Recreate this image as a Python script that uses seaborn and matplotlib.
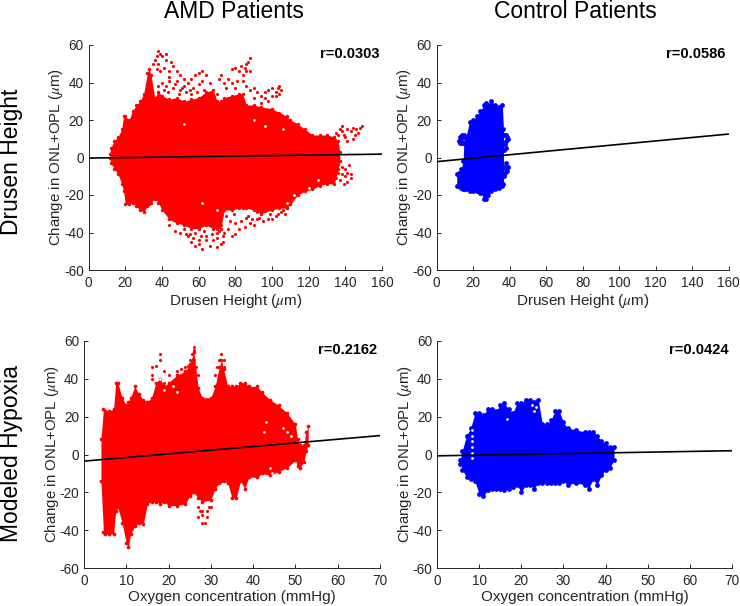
import matplotlib
matplotlib.use("Agg")
import matplotlib.pyplot as plt
import seaborn as sns
import pandas as pd

RED = "#ff0000"
BLUE = "#0000ff"
INK = "#262626"

# Panel outlines: x, upper edge, lower edge
amd_h_x = [11.5, 12, 14, 16, 18, 19, 20, 22, 24, 26, 28, 30, 32, 33, 34, 36, 38, 40, 44, 48, 52, 56, 60, 64, 68, 70, 72, 74, 78, 82, 84, 86, 90, 94, 100, 104, 108, 110, 114, 118, 122, 126, 130, 134, 136, 137]
amd_h_top = [2, 5, 9, 11, 15, 22, 22, 20, 25, 28, 30, 34, 45, 47, 44, 32, 35, 33, 31, 32, 30, 31, 32, 35, 36, 30, 30, 32, 33, 34, 34, 28, 28, 27, 26, 24, 22, 20, 18, 15, 12, 12, 12, 11, 9, 3]
amd_h_low = [0, -3, -6, -9, -14, -18, -25, -25, -24, -26, -28, -29, -26, -25, -24, -22, -24, -28, -33, -35, -36, -38, -38, -36, -38, -38, -38, -28, -28, -27, -27, -27, -28, -30, -28, -27, -27, -25, -20, -18, -17, -15, -14, -14, -6, -2]

amd_o_x = [4, 4.6, 5, 6, 7, 7.5, 8, 9, 10, 10.5, 11, 12, 13, 14, 15, 16, 17, 18, 19, 20, 22, 24, 25, 26, 27, 28, 30, 31, 32, 32.5, 33, 34, 35, 36, 37, 38, 39, 41, 42, 44, 46, 48, 50, 50.5, 51, 52, 52.5, 53]
amd_o_top = [8, 24, 23, 23, 24, 38, 38, 30, 26, 28, 30, 36, 32, 29, 28, 30, 38, 40, 36, 38, 42, 44, 48, 54, 35, 30, 30, 36, 46, 50, 45, 36, 36, 36, 38, 38, 36, 36, 33, 29, 26, 22, 16, 8, 5, 5, 12, 15]
amd_o_low = [-14, -41, -42, -42, -42, -30, -28, -36, -47, -49, -42, -38, -36, -37, -26, -25, -25, -26, -25, -27, -27, -26, -22, -20, -23, -25, -24, -18, -15, -14, -14, -15, -23, -23, -14, -18, -12, -12, -10, -11, -9, -7, -3, -6, -7, -4, 2, 5]

ctl_h_x = [11, 12, 13.5, 14.5, 15, 16, 18, 20, 22, 24, 26, 27, 28, 30, 32, 34, 36, 36.6]
ctl_h_top = [-9, -8, -6, -2, 12, 11, 19, 20, 22, 25, 28, 29, 28, 30, 28, 27, 28, 15]
ctl_h_low = [-15, -15, -16, -17, -17, -17, -18, -18, -18, -19, -22, -22, -20, -18, -17, -16, -15, -14]

ctl_o_x = [5.5, 6, 7, 8, 9, 10, 11, 12, 13, 14, 15, 16, 17, 18, 19, 20, 21, 22, 23, 24, 25, 26, 27, 28, 29, 30, 31, 33, 35, 36, 37, 38, 39, 40, 41, 42]
ctl_o_top = [-3, 2, 10, 14, 22, 22, 21, 24, 24, 23, 26, 27, 24, 22, 27, 27, 29, 29, 28, 29, 16, 16, 18, 23, 23, 17, 14, 13, 12, 12, 12, 10, 7, 6, 4, 4]
ctl_o_low = [-5, -8, -12, -13, -14, -21, -22, -19, -18, -18, -18, -19, -18, -17, -16, -20, -16, -16, -18, -15, -15, -15, -15, -15, -15, -14, -16, -15, -16, -18, -13, -16, -11, -8, -7, -3]

# Loose points outside the solid mass
amd_h_px = [38, 39, 37, 40, 42, 42, 36, 35, 38, 41, 45, 46, 48, 44, 50, 39, 37, 48, 52, 54, 56, 58, 60, 62, 64, 62, 60, 66, 57, 52, 44, 42, 38, 46, 50, 70,
            88, 87, 86, 85, 83, 80, 78, 82, 84, 86, 88, 76, 72, 71, 74, 78, 81, 84, 86, 88, 90, 80, 75,
            104, 103, 100, 98, 96, 102, 105, 100, 96, 92, 94, 102, 98, 94, 90, 104,
            149, 148, 146, 144, 147, 143, 141, 139, 138, 140, 145, 137, 141, 144, 136, 138, 135,
            136, 138, 140, 142, 143, 143, 141, 139, 137, 135, 138, 141, 136, 140,
            62, 58, 56, 54, 60, 66, 70, 72, 73, 74, 70, 64, 78, 80, 82, 85, 88, 90, 92, 95, 98, 100, 103, 106, 108, 76, 80, 86, 92, 97, 72, 50, 47, 44,
            52, 55, 58, 61, 64, 67, 70, 73, 57, 63, 68, 71, 53, 60,
            75, 77, 79, 83, 87, 89, 93, 94, 99, 102, 105, 107,
            41, 43, 47, 49, 53, 55, 59, 63, 40, 44, 51, 56]
amd_h_py = [57, 55, 54, 54, 55, 52, 52, 50, 50, 48, 51, 49, 46, 46, 44, 46, 47, 41, 42, 40, 42, 44, 45, 46, 44, 41, 39, 40, 37, 38, 41, 38, 38, 37, 36, 34,
            53, 51, 50, 48, 49, 48, 47, 46, 44, 46, 46, 42, 44, 42, 40, 40, 41, 41, 38, 36, 37, 37, 37,
            38, 37, 37, 36, 35, 35, 36, 33, 32, 35, 33, 33, 30, 29, 32, 34,
            17, 16, 15, 16, 13, 14, 15, 12, 17, 11, 12, 15, 9, 10, 12, 14, 13,
            -4, -5, -6, -4, -9, -11, -13, -14, -12, -11, -9, -8, -8, -10,
            -49, -47, -45, -42, -44, -47, -48, -46, -45, -40, -43, -42, -42, -41, -38, -37, -35, -36, -33, -34, -33, -33, -30, -28, -27, -38, -35, -32, -29, -28, -36, -40, -39, -36,
            -38, -41, -40, -42, -44, -41, -40, -42, -43, -39, -44, -39, -41, -46,
            -31, -34, -30, -34, -31, -33, -32, -29, -30, -31, -29, -30,
            36, 35, 39, 34, 35, 36, 35, 36, 40, 43, 37, 34]

amd_o_px = [18, 18, 17, 16, 16, 16, 19, 20, 19, 17, 21, 22, 23, 24, 25,
            26, 26, 25.5, 25, 24.5, 26, 26.5, 27, 26, 25,
            32.5, 32, 33, 31.5, 33, 31, 32,
            27, 27, 28, 28.5, 28, 29, 29, 30, 28, 27.5, 29.5]
amd_o_py = [53, 50, 47, 46, 42, 40, 44, 42, 38, 38, 39, 44, 45, 46, 44,
            57, 55, 53, 50, 47, 50, 46, 42, 42, 40,
            53, 50, 50, 46, 46, 42, 42,
            -28, -33, -36, -36, -32, -30, -33, -28, -30, -30, -28]

ctl_h_px = [13, 13.5, 14, 14.5, 13, 12.5, 14, 13.5, 14.5, 37, 38, 38.5, 39, 38, 37.5, 38, 37, 38, 39, 38.5, 37.5, 37, 38, 37]
ctl_h_py = [11, 9, 12, 11, 8, 9, 8, 11, 8, 12, 12, 11, 10, 9, 7, 5, 4, -3, -5, -7, -8, -5, -6, -10]

# Small white gaps inside the masses
amd_o_gap_x = [42.5, 43, 44, 44.5, 47, 48, 49, 18, 19, 21, 22]
amd_o_gap_y = [12, 17, -7, -10, 14, 12, 10, 40, 34, 36, 33]
ctl_o_gap_x = [8.2, 8.3, 8.4, 8.3, 8.2, 8.4, 22.5, 23, 23.5, 16.5]
ctl_o_gap_y = [13, 10, 7, 4, 1, -2, 26, 23, 25, 19]
amd_h_gap_x = [90, 96, 106, 120, 125, 62, 52, 70, 108, 112]
amd_h_gap_y = [20, 17, 15, -16, -12, -24, 18, -28, -24, -20]

# Fit lines
fit_h_x = [0, 160]
fit_amd_h = [-0.3, 1.8]
fit_ctl_h = [-2.2, 12.5]
fit_o_x = [0, 70]
fit_amd_o = [-3.5, 10]
fit_ctl_o = [-0.7, 2]

yticks = [-60, -40, -20, 0, 20, 40, 60]
ylabel = r"Change in ONL+OPL ($\mu$m)"
xlabel_h = r"Drusen Height ($\mu$m)"
xlabel_o = "Oxygen concentration (mmHg)"
xticks_h = [0, 20, 40, 60, 80, 100, 120, 140, 160]
xticks_o = [0, 10, 20, 30, 40, 50, 60, 70]

sns.set_theme(style="ticks")
plt.rcParams.update({
    "font.family": ["Liberation Sans", "DejaVu Sans"],
    "mathtext.fontset": "stix",
    "axes.unicode_minus": False,
})

W, H = 740, 606
fig = plt.figure(figsize=(W / 100, H / 100), dpi=100, facecolor="white")


def panel(box, color, ex, et, el, px, py, gx, gy, fx, fy, xt, xl, r, ms, xpad):
    left, top, right, bottom = box
    ax = fig.add_axes([left / W, 1 - bottom / H, (right - left) / W, (bottom - top) / H])
    ax.fill_between(ex, el, et, color=color, linewidth=0, zorder=2)
    edge = pd.DataFrame({"x": list(ex) * 2, "y": list(et) + list(el)})
    sns.scatterplot(data=edge, x="x", y="y", color=color, s=ms, linewidth=0, ax=ax, zorder=3)
    if px:
        loose = pd.DataFrame({"x": px, "y": py})
        sns.scatterplot(data=loose, x="x", y="y", color=color, s=ms if ms > 10 else 5, linewidth=0, ax=ax, zorder=3)
    if gx:
        gaps = pd.DataFrame({"x": gx, "y": gy})
        sns.scatterplot(data=gaps, x="x", y="y", color="white", s=4, linewidth=0, ax=ax, zorder=4)
    fit = pd.DataFrame({"x": fx, "y": fy})
    sns.lineplot(data=fit, x="x", y="y", color="black", linewidth=1.2, ax=ax, zorder=5, errorbar=None)
    ax.set_xlim(xt[0], xt[-1])
    ax.set_ylim(-60, 60)
    ax.set_xticks(xt)
    ax.set_yticks(yticks)
    ax.set_xticklabels([str(v) for v in xt])
    ax.set_yticklabels([str(v) for v in yticks])
    ax.tick_params(direction="in", length=3, width=0.7, labelsize=9.8, colors=INK, labelcolor=INK)
    ax.tick_params(axis="x", pad=4.5)
    ax.tick_params(axis="y", pad=3.5)
    ax.set_xlabel(xl, fontsize=11, color=INK, labelpad=xpad)
    ax.set_ylabel(ylabel, fontsize=10.8, color=INK, labelpad=-1)
    sns.despine(ax=ax)
    for s in ("left", "bottom"):
        ax.spines[s].set_linewidth(0.7)
        ax.spines[s].set_color(INK)
    ax.text(0.99, 0.96, r, transform=ax.transAxes, ha="right", va="center",
            fontsize=10.5, fontweight="bold", color="black")
    return ax


panel((88.7, 45, 382, 270), RED, amd_h_x, amd_h_top, amd_h_low, amd_h_px, amd_h_py,
      amd_h_gap_x, amd_h_gap_y, fit_h_x, fit_amd_h, xticks_h, xlabel_h, "r=0.0303", 6, 1)
panel((436.7, 45, 728.5, 270), BLUE, ctl_h_x, ctl_h_top, ctl_h_low, ctl_h_px, ctl_h_py,
      [], [], fit_h_x, fit_ctl_h, xticks_h, xlabel_h, "r=0.0586", 12, 1)
panel((84, 341, 380, 568), RED, amd_o_x, amd_o_top, amd_o_low, amd_o_px, amd_o_py,
      amd_o_gap_x, amd_o_gap_y, fit_o_x, fit_amd_o, xticks_o, xlabel_o, "r=0.2162", 7, 1.5)
panel((437, 341, 732, 568), BLUE, ctl_o_x, ctl_o_top, ctl_o_low, [], [],
      ctl_o_gap_x, ctl_o_gap_y, fit_o_x, fit_ctl_o, xticks_o, xlabel_o, "r=0.0424", 12, 1.5)

fig.text(233.5 / W, 1 - 12 / H, "AMD Patients", fontsize=16.5, ha="center", va="center", color="black")
fig.text(575 / W, 1 - 12 / H, "Control Patients", fontsize=16.5, ha="center", va="center", color="black")
fig.text(12 / W, 1 - 162 / H, "Drusen Height", fontsize=16.5, rotation=90, ha="center", va="center", color="black")
fig.text(12 / W, 1 - 453.5 / H, "Modeled Hypoxia", fontsize=16.5, rotation=90, ha="center", va="center", color="black")

fig.savefig("out.png", dpi=100, facecolor="white")
